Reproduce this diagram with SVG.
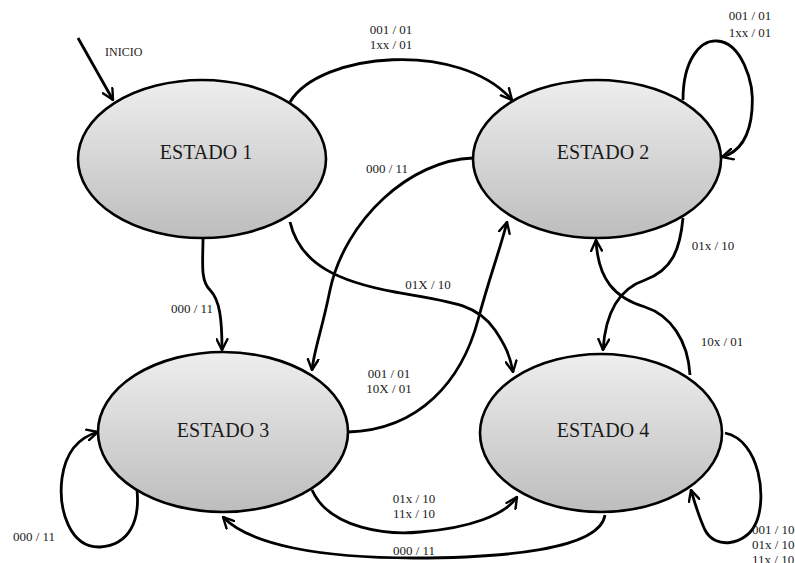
<svg xmlns="http://www.w3.org/2000/svg" width="795" height="563" viewBox="0 0 795 563">
  <defs>
    <linearGradient id="stateFill" x1="0" y1="0" x2="0" y2="1">
      <stop offset="0" stop-color="#eeeeee"/>
      <stop offset="1" stop-color="#bdbdbd"/>
    </linearGradient>
    <marker id="arrow" viewBox="0 0 12 12" refX="11" refY="6" markerWidth="13" markerHeight="13" markerUnits="userSpaceOnUse" orient="auto">
      <path d="M1,1 L11,6 L1,11" fill="none" stroke="#000" stroke-width="2.2" stroke-linecap="round" stroke-linejoin="miter"/>
    </marker>
    <style>
      .state { fill: url(#stateFill); stroke: #000; stroke-width: 2.6; }
      .name { font-family: "Liberation Serif", "Times New Roman", serif; font-size: 20px; fill: #1a1a1a; text-anchor: middle; }
      .lbl { font-family: "Liberation Serif", "Times New Roman", serif; font-size: 13px; fill: #1a1a1a; text-anchor: middle; }
      .edge { fill: none; stroke: #000; stroke-width: 2.8; marker-end: url(#arrow); }
    </style>
  </defs>
  <rect width="795" height="563" fill="#ffffff"/>

  <g id="connectors">
    <!-- start arrow -->
    <path class="edge" d="M78,38 L113,100"/>
    <!-- 1 -> 2 -->
    <path class="edge" d="M290,102 C320,52 460,40 512,100"/>
    <!-- 2 -> 2 -->
    <path class="edge" d="M683,100 C683,60 700,40 717,41 C740,42 755,80 752,110 C750,135 740,152 722,157"/>
    <!-- 1 -> 3 -->
    <path class="edge" d="M203,238 C203,262 200,280 210,290 C220,300 222,320 222,350"/>
    <!-- 2 -> 3 -->
    <path class="edge" d="M473,158 C410,160 345,220 330,290 C322,330 314,350 312,370"/>
    <!-- 1 -> 4 -->
    <path class="edge" d="M290,222 C300,265 340,282 395,292 C455,302 478,305 495,330 C505,345 510,355 513,372"/>
    <!-- 3 -> 2 -->
    <path class="edge" d="M348,432 C420,430 462,380 478,320 C490,275 500,250 507,222"/>
    <!-- 2 -> 4 -->
    <path class="edge" d="M683,218 C680,250 672,270 645,280 C615,290 605,320 603,350"/>
    <!-- 4 -> 2 -->
    <path class="edge" d="M690,375 C688,340 670,315 645,307 C615,298 598,280 596,240"/>
    <!-- 4 -> 4 -->
    <path class="edge" d="M725,433 C760,440 768,500 755,525 C745,545 715,550 705,530 C698,515 694,500 691,490"/>
    <!-- 3 -> 3 -->
    <path class="edge" d="M137,490 C140,520 130,545 100,547 C70,548 58,510 62,478 C66,450 80,437 98,432"/>
    <!-- 3 -> 4 -->
    <path class="edge" d="M312,490 C330,530 390,535 420,532 C470,528 505,515 517,497"/>
    <!-- 4 -> 3 -->
    <path class="edge" d="M605,515 C600,550 500,558 414,558 C320,558 250,545 223,517"/>

    <text class="lbl" x="105" y="56" style="text-anchor:start;font-size:12px">INICIO</text>
    <text class="lbl" x="391" y="34">001 / 01</text>
    <text class="lbl" x="391" y="49">1xx / 01</text>
    <text class="lbl" x="750" y="20">001 / 01</text>
    <text class="lbl" x="750" y="37">1xx / 01</text>
    <text class="lbl" x="387" y="173">000 / 11</text>
    <text class="lbl" x="192" y="313">000 / 11</text>
    <text class="lbl" x="428" y="289">01X / 10</text>
    <text class="lbl" x="389" y="378">001 / 01</text>
    <text class="lbl" x="389" y="393">10X / 01</text>
    <text class="lbl" x="713" y="250">01x / 10</text>
    <text class="lbl" x="722" y="346">10x / 01</text>
    <text class="lbl" x="752" y="534" style="text-anchor:start">001 / 10</text>
    <text class="lbl" x="752" y="549" style="text-anchor:start">01x / 10</text>
    <text class="lbl" x="752" y="564" style="text-anchor:start">11x / 10</text>
    <text class="lbl" x="34" y="541">000 / 11</text>
    <text class="lbl" x="414" y="503">01x / 10</text>
    <text class="lbl" x="414" y="518">11x / 10</text>
    <text class="lbl" x="414" y="555">000 / 11</text>
  </g>

  <g id="estado1">
    <ellipse class="state" cx="202" cy="159" rx="124" ry="79"/>
    <text class="name" x="206" y="159">ESTADO 1</text>
  </g>
  <g id="estado2">
    <ellipse class="state" cx="597" cy="159" rx="124" ry="79"/>
    <text class="name" x="603" y="159">ESTADO 2</text>
  </g>
  <g id="estado3">
    <ellipse class="state" cx="223" cy="432" rx="125" ry="80"/>
    <text class="name" x="223" y="437">ESTADO 3</text>
  </g>
  <g id="estado4">
    <ellipse class="state" cx="601" cy="433" rx="121" ry="79"/>
    <text class="name" x="603" y="437">ESTADO 4</text>
  </g>
</svg>
